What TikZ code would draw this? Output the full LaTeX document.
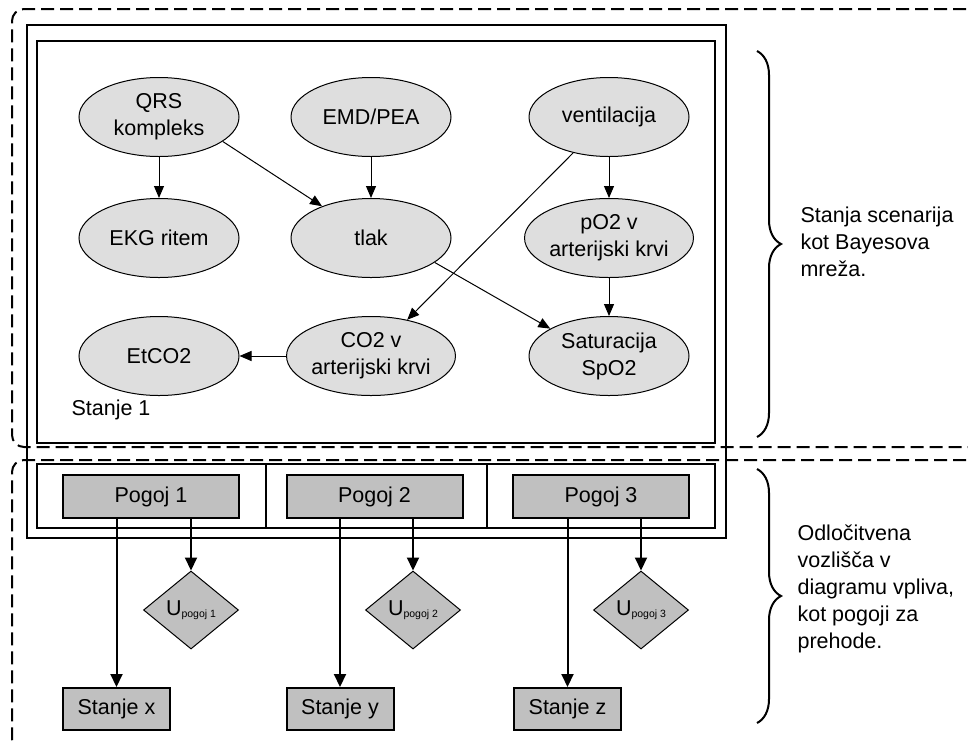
\documentclass[tikz,border=0pt]{standalone}
\usepackage{fontspec}
\setmainfont{Liberation Sans}
\usetikzlibrary{shapes.geometric,arrows.meta,decorations.pathreplacing}
\definecolor{ellfill}{HTML}{DEDEDE}
\definecolor{boxfill}{HTML}{C0C0C0}

\begin{document}
\begin{tikzpicture}[x=1pt,y=-1pt,
  every node/.style={font=\fontsize{21.5}{27}\selectfont},
  bnode/.style={ellipse, draw=black, line width=1pt, fill=ellfill,
    minimum width=160pt, minimum height=79pt, inner sep=0pt, align=center},
  link/.style={line width=1pt, -{Triangle[length=12pt,width=10pt]}},
  decision/.style={rectangle, draw=black, line width=2pt, fill=boxfill,
    minimum width=176pt, minimum height=43pt, inner sep=0pt},
  outcome/.style={rectangle, draw=black, line width=2pt, fill=boxfill,
    minimum width=107pt, minimum height=42pt, inner sep=0pt},
  utility/.style={diamond, draw=black, line width=1pt, fill=boxfill,
    minimum width=95pt, minimum height=78pt, inner sep=0pt},
  flow/.style={line width=2pt, -{Triangle[length=13pt,width=12pt]}},
  region/.style={line width=2pt, dash pattern=on 13pt off 6pt, rounded corners=12pt},
  frame/.style={line width=2pt},
  sidebrace/.style={line width=2pt, decorate,
    decoration={brace, amplitude=24pt, aspect=0.5}},
]
\path[use as bounding box] (0,0) rectangle (968,740);

% dashed regions
\draw[region] (985,9) -- (12,9) -- (12,447) -- (985,447);
\draw[region] (985,460) -- (12,460) -- (12,752) -- (985,752);

% frames
\draw[frame] (27,25) rectangle (726,538);
\draw[frame] (37,41) rectangle (715,443);
\draw[frame] (37,464) rectangle (715,528);
\draw[frame] (266,464) -- (266,528);
\draw[frame] (487,464) -- (487,528);

% Bayesian network
\node[bnode] (qrs)   at (159,117) {QRS\\kompleks};
\node[bnode] (emd)   at (371,117) {EMD/PEA};
\node[bnode] (vent)  at (609,117) {ventilacija};
\node[bnode] (ekg)   at (159,238) {EKG ritem};
\node[bnode] (tlak)  at (371,238) {tlak};
\node[bnode] (po2)   at (609,238) {pO2 v\\arterijski krvi};
\node[bnode] (etco2) at (159,356) {EtCO2};
\node[bnode] (co2)   at (371,356) {CO2 v\\arterijski krvi};
\node[bnode] (sat)   at (609,356) {Saturacija\\SpO2};
\node[anchor=west] (st1) at (68,410) {Stanje 1};

\draw[link] (qrs) -- (ekg);
\draw[link] (qrs.-21) -- (tlak.147);
\draw[link] (emd) -- (tlak);
\draw[link] (vent.-135) -- (co2.45);
\draw[link] (vent) -- (po2);
\draw[link] (po2) -- (sat);
\draw[link] (tlak.-21) -- (sat.155);
\draw[link] (co2) -- (etco2);

% decision nodes
\node[decision] (p1) at (151,496.5) {Pogoj 1};
\node[decision] (p2) at (374.5,496.5) {Pogoj 2};
\node[decision] (p3) at (601,496.5) {Pogoj 3};

\node[utility] (u1) at (191,610) {U\raisebox{-2pt}{\fontsize{10.5}{12}\selectfont pogoj 1}};
\node[utility] (u2) at (413,610) {U\raisebox{-2pt}{\fontsize{10.5}{12}\selectfont pogoj 2}};
\node[utility] (u3) at (641,610) {U\raisebox{-2pt}{\fontsize{10.5}{12}\selectfont pogoj 3}};

\node[outcome] (sx) at (116.5,709) {Stanje x};
\node[outcome] (sy) at (340,709) {Stanje y};
\node[outcome] (sz) at (567.5,709) {Stanje z};

\draw[flow] (sx.north |- p1.south) -- (sx.north);
\draw[flow] (u1.north |- p1.south) -- (u1.north);
\draw[flow] (sy.north |- p2.south) -- (sy.north);
\draw[flow] (u2.north |- p2.south) -- (u2.north);
\draw[flow] (sz.north |- p3.south) -- (sz.north);
\draw[flow] (u3.north |- p3.south) -- (u3.north);

% braces and captions
\draw[sidebrace] (757,51) -- (757,437);
\draw[sidebrace] (757,469) -- (757,723);
\node[anchor=west, align=left] (cap1) at (797,242) {Stanja scenarija\\kot Bayesova\\mreža.};
\node[anchor=west, align=left] (cap2) at (794,589) {Odločitvena\\vozlišča v\\diagramu vpliva,\\kot pogoji za\\prehode.};
\end{tikzpicture}
\end{document}
